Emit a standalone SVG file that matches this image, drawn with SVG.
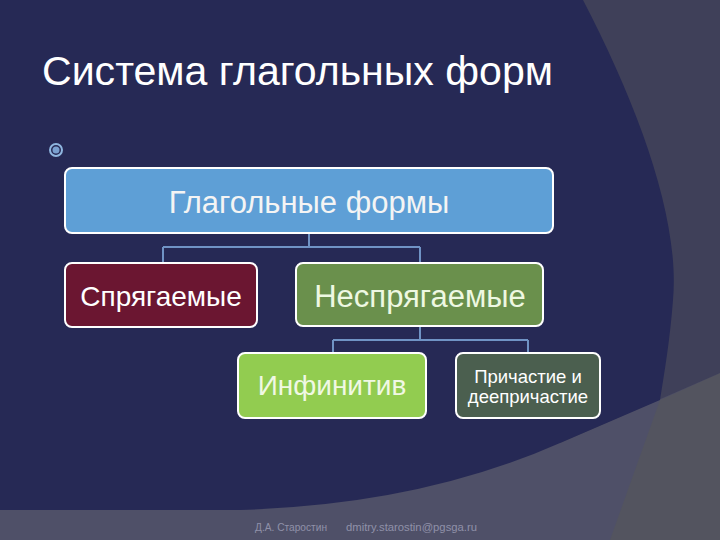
<svg xmlns="http://www.w3.org/2000/svg" width="720" height="540" viewBox="0 0 720 540">
<style>
.box{stroke:#ffffff;stroke-width:2}
.t{font-family:"Liberation Sans",Arial,sans-serif;text-anchor:middle}
.conn{stroke:#7093c5;stroke-width:2;fill:none}
.foot{font-family:"Liberation Sans",Arial,sans-serif;font-size:10.5px;fill:#8f90a8}
</style>
<g id="background">
<rect x="0" y="0" width="720" height="540" fill="#4f5068"/>
<path d="M660,400 L720,373 L720,540 L610,540 Z" fill="#53545f"/>
<path d="M560,0 H720 V373 L560,443 Z" fill="#3f4059"/>
<path d="M0,0 H583 C640,110 680,220 673,300 C670,340 664,375 660,400 L560,443 Q420,505 240,510 L0,510 Z" fill="#262955"/>
</g>
<text x="42" y="85" font-family="Liberation Sans, Arial, sans-serif" font-size="41" fill="#ffffff" textLength="511" lengthAdjust="spacingAndGlyphs">Система глагольных форм</text>
<g id="bullet">
<circle cx="56" cy="150" r="6" fill="none" stroke="#8fb6e0" stroke-width="2"/>
<circle cx="56" cy="150" r="3.5" fill="#7aa0d0"/>
</g>
<g id="connectors">
<path class="conn" d="M309,233 V247 M163,247 H420 M163,247 V263 M420,247 V263"/>
<path class="conn" d="M420,326 V340 M333,340 H528 M333,340 V353 M528,340 V353"/>
</g>
<g id="node-verbal-forms">
<rect class="box" x="65" y="168" width="488" height="65" rx="7" fill="#5e9fd6"/>
<text class="t" x="309" y="213" font-size="31" fill="#f4f4f4">Глагольные формы</text>
</g>
<g id="node-conjugated">
<rect class="box" x="65" y="263" width="192" height="64" rx="7" fill="#6b1631"/>
<text class="t" x="161" y="306" font-size="28" fill="#ffffff">Спрягаемые</text>
</g>
<g id="node-nonconjugated">
<rect class="box" x="296" y="263" width="247" height="63" rx="7" fill="#6a904c"/>
<text class="t" x="420" y="307" font-size="31" fill="#eef8e2">Неспрягаемые</text>
</g>
<g id="node-infinitive">
<rect class="box" x="238" y="353" width="188" height="65" rx="7" fill="#92cc50"/>
<text class="t" x="332" y="395" font-size="28" fill="#f0f8e4">Инфинитив</text>
</g>
<g id="node-participle">
<rect class="box" x="456" y="353" width="144" height="65" rx="7" fill="#4b5f4f"/>
<text class="t" x="528" y="383" font-size="18.5" fill="#ffffff">Причастие и</text>
<text class="t" x="528" y="403" font-size="18.5" fill="#ffffff">деепричастие</text>
</g>
<g id="footer">
<text class="foot" x="255" y="531" textLength="72" lengthAdjust="spacingAndGlyphs">Д.А. Старостин</text>
<text class="foot" x="346" y="531" textLength="131" lengthAdjust="spacingAndGlyphs">dmitry.starostin@pgsga.ru</text>
</g>
</svg>
